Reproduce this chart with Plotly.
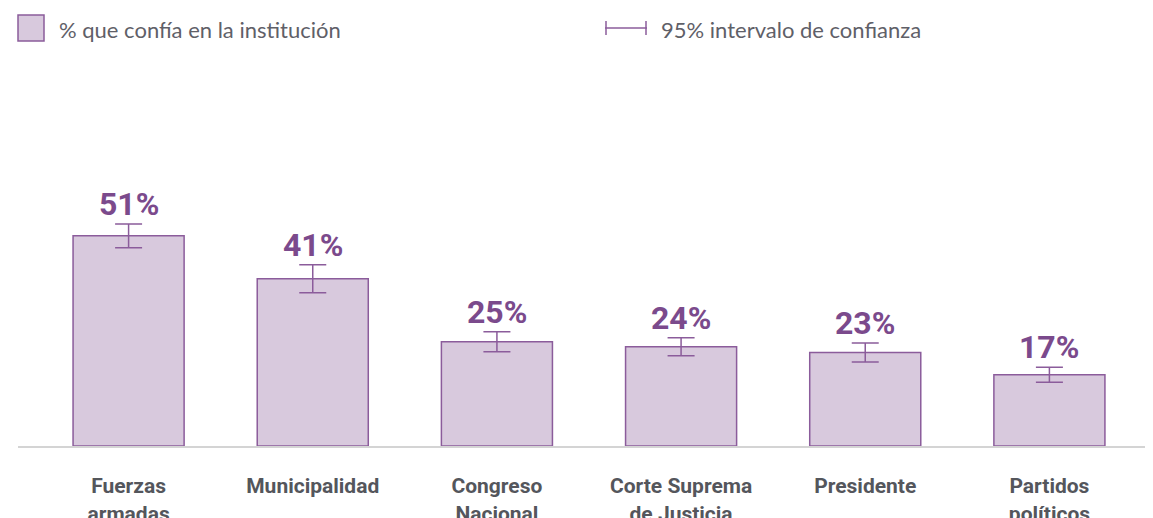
import plotly.graph_objects as go

# datos
instituciones = ["Fuerzas<br>armadas", "Municipalidad", "Congreso<br>Nacional",
                 "Corte Suprema<br>de Justicia", "Presidente", "Partidos<br>políticos"]
confianza = [51.0, 40.6, 25.3, 24.1, 22.7, 17.3]
etiquetas = ["51%", "41%", "25%", "24%", "23%", "17%"]
error_95 = [2.9, 3.4, 2.4, 2.2, 2.3, 1.8]

PURPLE = "#8b5c9b"
FILL = "#d8c9dd"
TEXT_PURPLE = "#7b4a8c"
GREY = "#5f6068"

# la pagina desplaza el grafico 8px (margen del body)
OFF = 8
W, H = 1153, 518
L, R, T, B = 18 - OFF, OFF, 50 - OFF, H - (446 - OFF)
PW, PH = W - L - R, H - T - B


def px(x):
    return (x - OFF - L) / PW


def py(y):
    return (H - B - (y - OFF)) / PH


xs = list(range(len(instituciones)))

fig = go.Figure()
fig.add_trace(go.Bar(
    x=xs, y=confianza, width=0.603,
    marker=dict(color=FILL, line=dict(color=PURPLE, width=1.5)),
    error_y=dict(type="data", array=error_95, color=PURPLE, thickness=1.5, width=13.5),
    showlegend=False, hoverinfo="skip",
))

for i, (v, e, t) in enumerate(zip(confianza, error_95, etiquetas)):
    fig.add_annotation(x=i, y=v + e, text=t, showarrow=False, yanchor="bottom", yshift=-1,
                       font=dict(family="Roboto", size=32, color=TEXT_PURPLE, weight="bold"))

# leyenda dibujada a mano
fig.add_shape(type="rect", xref="paper", yref="paper",
              x0=px(18), x1=px(44), y0=py(41), y1=py(15),
              fillcolor=FILL, line=dict(color=PURPLE, width=1.5))
fig.add_annotation(xref="paper", yref="paper", x=px(57), y=py(29), xanchor="left", yanchor="middle",
                   text="% que confía en la institución", showarrow=False,
                   font=dict(family="Lato", size=22, color=GREY))
for x0, x1, y0, y1 in [(605, 647, 28, 28), (606, 606, 21, 35), (646, 646, 21, 35)]:
    fig.add_shape(type="line", xref="paper", yref="paper",
                  x0=px(x0), x1=px(x1), y0=py(y0), y1=py(y1),
                  line=dict(color=PURPLE, width=1.5))
fig.add_annotation(xref="paper", yref="paper", x=px(659), y=py(29), xanchor="left", yanchor="middle",
                   text="95% intervalo de confianza", showarrow=False,
                   font=dict(family="Lato", size=22, color=GREY))

fig.update_layout(
    width=W, height=H,
    margin=dict(l=L, r=R, t=T, b=B),
    plot_bgcolor="white", paper_bgcolor="white",
    xaxis=dict(range=[-0.6005, 5.5625], tickvals=xs, ticktext=instituciones,
               showgrid=False, zeroline=False, showline=True, linecolor="#d4d4d4", linewidth=2,
               ticks="", ticklabelstandoff=20, automargin=False,
               tickfont=dict(family="Roboto", size=21, color="#54565c", weight="bold")),
    yaxis=dict(range=[0, 96.1], visible=False, showgrid=False, zeroline=False, automargin=False),
    showlegend=False,
)

fig.write_html("out.html")
